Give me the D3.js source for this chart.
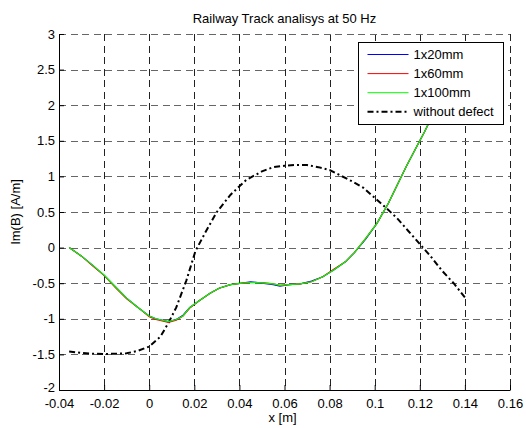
<!DOCTYPE html>
<html>
<head>
<meta charset="utf-8">
<script src="https://cdn.jsdelivr.net/npm/d3@7"></script>
<style>
  body { margin: 0; background: #fff; }
  svg { display: block; font-family: "Liberation Sans", Arial, sans-serif; }
</style>
</head>
<body>
<div id="chart"></div>
<script>
'use strict';

// values
var xDefect = [-0.0355, -0.03, -0.025, -0.02, -0.015, -0.01, -0.005, 0, 0.003, 0.0085, 0.012, 0.015, 0.018, 0.022,
    0.027, 0.031, 0.036, 0.041, 0.045, 0.05, 0.055, 0.058, 0.062, 0.067, 0.072, 0.077, 0.082, 0.087, 0.091,
    0.096, 0.101, 0.106, 0.11, 0.114, 0.118, 0.122, 0.126, 0.13, 0.135, 0.14];
var y20mm = [0, -0.12, -0.25, -0.39, -0.55, -0.71, -0.84, -0.96, -1.0, -1.04, -1.01, -0.95, -0.84, -0.75,
    -0.64, -0.57, -0.52, -0.5, -0.48, -0.5, -0.52, -0.54, -0.52, -0.51, -0.47, -0.41, -0.31, -0.2, -0.07,
    0.12, 0.34, 0.62, 0.88, 1.14, 1.38, 1.62, 1.88, 2.15, 2.5, 2.85];
var y60mm = [0, -0.12, -0.26, -0.39, -0.56, -0.72, -0.84, -0.97, -1.01, -1.05, -1.02, -0.96, -0.85, -0.75,
    -0.64, -0.57, -0.52, -0.5, -0.49, -0.49, -0.51, -0.53, -0.52, -0.51, -0.48, -0.41, -0.3, -0.2, -0.07,
    0.13, 0.34, 0.62, 0.88, 1.14, 1.38, 1.62, 1.88, 2.15, 2.5, 2.85];
var y100mm = [0, -0.12, -0.25, -0.385, -0.55, -0.71, -0.84, -0.96, -1.0, -1.04, -1.01, -0.96, -0.84, -0.75,
    -0.64, -0.57, -0.52, -0.5, -0.49, -0.495, -0.51, -0.53, -0.52, -0.51, -0.48, -0.41, -0.31, -0.2, -0.07,
    0.13, 0.34, 0.62, 0.88, 1.14, 1.38, 1.62, 1.88, 2.15, 2.5, 2.85];

var xClean = [-0.0355, -0.03, -0.025, -0.02, -0.015, -0.01, -0.005, 0, 0.005, 0.0085, 0.012, 0.0165, 0.0205,
    0.025, 0.03, 0.036, 0.043, 0.05, 0.055, 0.06, 0.065, 0.07, 0.075, 0.08, 0.085, 0.09, 0.095, 0.1, 0.105,
    0.11, 0.115, 0.12, 0.125, 0.13, 0.135, 0.14];
var yClean = [-1.46, -1.48, -1.49, -1.495, -1.49, -1.485, -1.45, -1.39, -1.25, -1.06, -0.84, -0.46, -0.05,
    0.22, 0.5, 0.74, 0.95, 1.07, 1.13, 1.15, 1.16, 1.16, 1.13, 1.09, 1.01, 0.93, 0.84, 0.7, 0.56,
    0.41, 0.23, 0.05, -0.13, -0.33, -0.5, -0.7];

var xTicks = [-0.04, -0.02, 0, 0.02, 0.04, 0.06, 0.08, 0.1, 0.12, 0.14, 0.16];
var yTicks = [-2, -1.5, -1, -0.5, 0, 0.5, 1, 1.5, 2, 2.5, 3];
var seriesNames = ['1x20mm', '1x60mm', '1x100mm', 'without defect'];
var seriesColors = ['#0000ff', '#ff0000', '#00ff00', '#000000'];

var width = 526, height = 428;
var margin = {top: 34, right: 16, bottom: 38, left: 59};
var fontSize = 13;

var svg = d3.select('#chart').append('svg')
    .attr('width', width)
    .attr('height', height);

var x = d3.scaleLinear().domain([-0.04, 0.16]).range([margin.left, width - margin.right]);
var y = d3.scaleLinear().domain([-2, 3]).range([height - margin.bottom, margin.top]);

// grid
var grid = svg.append('g').attr('stroke-width', 1)
    .attr('stroke-dasharray', '7,4.5').attr('shape-rendering', 'crispEdges');
grid.selectAll('line.gx').data(xTicks.slice(1)).enter().append('line')
    .attr('stroke', '#222')
    .attr('x1', function(d) { return Math.round(x(d)) + 0.5; })
    .attr('x2', function(d) { return Math.round(x(d)) + 0.5; })
    .attr('y1', y(3)).attr('y2', y(-2));
grid.selectAll('line.gy').data(yTicks.slice(1)).enter().append('line')
    .attr('stroke', '#666')
    .attr('x1', x(-0.04)).attr('x2', x(0.16))
    .attr('y1', function(d) { return Math.round(y(d)) + 0.5; })
    .attr('y2', function(d) { return Math.round(y(d)) + 0.5; });

var line = d3.line()
    .x(function(d) { return x(d[0]); })
    .y(function(d) { return y(d[1]); });

function pairs(xs, ys) {
    return xs.map(function(v, i) { return [v, ys[i]]; });
}

var plot = svg.append('g');
plot.append('path').datum(pairs(xClean, yClean))
    .attr('fill', 'none').attr('stroke', '#000').attr('stroke-width', 2)
    .attr('stroke-dasharray', '6,3,2,3').attr('d', line);
[y20mm, y60mm, y100mm].forEach(function(ys, i) {
    plot.append('path').datum(pairs(xDefect, ys))
        .attr('fill', 'none').attr('stroke', seriesColors[i]).attr('stroke-width', 1.2)
        .attr('d', line);
});

// axes
var xAxis = d3.axisBottom(x).tickValues(xTicks).tickSizeInner(-5).tickSizeOuter(0)
    .tickPadding(9).tickFormat(function(d) { return String(+d.toFixed(2)); });
var yAxis = d3.axisLeft(y).tickValues(yTicks).tickSizeInner(-5).tickSizeOuter(0)
    .tickPadding(4).tickFormat(function(d) { return String(d); });

var gx = svg.append('g').attr('transform', 'translate(0,' + (height - margin.bottom) + ')').call(xAxis);
var gy = svg.append('g').attr('transform', 'translate(' + margin.left + ',0)').call(yAxis);
[gx, gy].forEach(function(g) {
    g.selectAll('text').attr('font-size', fontSize).attr('fill', '#000')
        .attr('font-family', '"Liberation Sans", Arial, sans-serif');
    g.selectAll('line').attr('stroke', '#000');
    g.select('.domain').attr('stroke', '#000');
});
// lowest y label sits just above the x labels
gy.selectAll('text').filter(function(d) { return d === -2; }).attr('dy', '0.1em');

// titles
svg.append('text').attr('x', (x(-0.04) + x(0.16)) / 2).attr('y', 23)
    .attr('text-anchor', 'middle').attr('font-size', fontSize).text('Railway Track analisys at 50 Hz');
svg.append('text').attr('x', (x(-0.04) + x(0.16)) / 2 - 2).attr('y', 422)
    .attr('text-anchor', 'middle').attr('font-size', fontSize).text('x [m]');
svg.append('text')
    .attr('transform', 'translate(20,' + ((y(3) + y(-2)) / 2) + ') rotate(-90)')
    .attr('text-anchor', 'middle').attr('font-size', fontSize).text('Im(B) [A/m]');

// legend
var legend = svg.append('g').attr('transform', 'translate(358.5,42.5)');
legend.append('rect').attr('width', 145).attr('height', 82)
    .attr('fill', '#fff').attr('stroke', '#000').attr('stroke-width', 1);
var items = legend.selectAll('g.item').data(seriesNames).enter().append('g')
    .attr('transform', function(d, i) { return 'translate(0,' + (12 + i * 19.1) + ')'; });
items.append('line').attr('x1', 9).attr('x2', 50)
    .attr('stroke', function(d, i) { return seriesColors[i]; })
    .attr('stroke-width', function(d, i) { return i === 3 ? 2 : 1; })
    .attr('stroke-dasharray', function(d, i) { return i === 3 ? '6,3,2,3' : null; });
items.append('text').attr('x', 55).attr('dy', '0.35em').attr('font-size', fontSize).text(function(d) { return d; });
</script>
</body>
</html>
